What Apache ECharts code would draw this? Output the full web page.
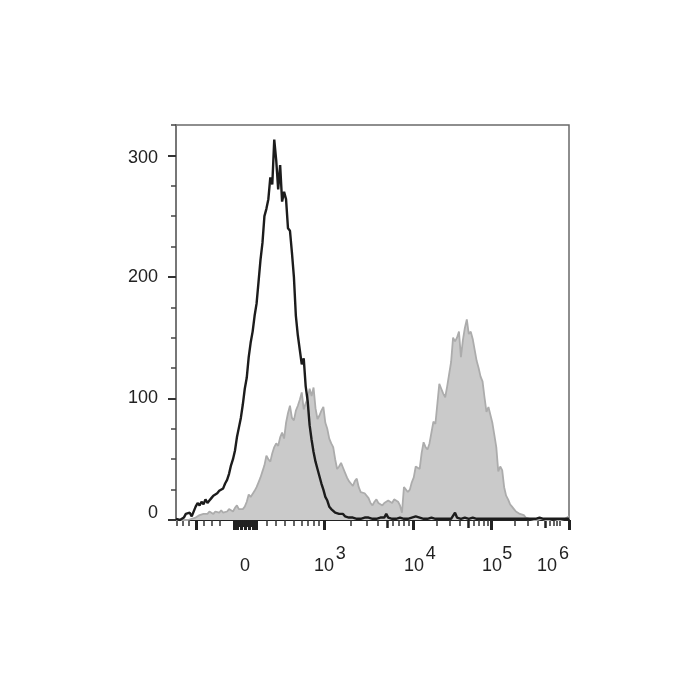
<!DOCTYPE html>
<html>
<head>
<meta charset="utf-8">
<script src="https://cdn.jsdelivr.net/npm/echarts@6/dist/echarts.min.js"></script>
<style>html,body{margin:0;padding:0;background:#fff}#c{width:700px;height:700px}</style>
</head>
<body>
<div id="c"></div>
<script>
// Histogram bins on a 0-1000 display channel scale (biexponential display)
const binWidth = 5;
// Black open histogram (control)
const controlCounts = [
  1,1,0,1,2,5,4,6,3,4, 11,14,12,15,13,17,14,16,18,20,
  19,22,24,23,26,30,33,38,45,50, 57,68,76,84,95,108,117,134,146,155,
  168,178,196,214,228,250,256,264,282,276, 313,296,272,292,262,270,264,240,238,220,
  200,168,152,140,128,133,110,98,78,66, 56,48,42,36,30,25,19,16,11,9,
  8,6,7,5,4,5,3,3,2,3, 2,2,1,2,1,1,2,1,2,1,
  1,2,1,1,2,1,2,5,2,1, 1,2,1,1,2,1,1,2,1,1,
  2,1,3,4,2,1,1,2,1,1, 2,1,1,2,1,1,1,2,1,1,
  1,2,6,2,1,1,1,2,1,1, 1,2,1,1,1,1,2,1,1,1,
  1,1,2,1,1,1,1,1,2,1, 1,1,1,1,2,1,1,1,1,1,
  1,1,1,1,1,2,1,1,1,1, 1,1,1,1,1,1,1,1,1,1,
  1
];
// Grey filled histogram (stained sample)
const sampleCounts = [
  0,0,0,0,0,0,0,0,1,1, 2,3,4,3,5,6,5,7,6,5,
  7,8,6,8,6,5,7,9,8,7, 10,12,9,8,9,11,15,21,19,20,
  24,27,31,35,40,45,53,50,48,55, 60,63,61,68,72,67,80,88,94,84,
  82,90,94,99,105,91,96,100,108,102, 109,92,83,86,90,93,80,75,67,63,
  60,50,42,44,47,43,39,35,32,30, 28,32,34,27,23,24,22,23,18,14,
  12,15,17,14,13,12,14,15,16,16, 14,17,17,15,12,6,27,26,23,25,
  31,35,44,45,42,55,64,60,58,63, 72,81,79,80,112,108,104,101,110,120,
  130,150,147,150,155,134,148,158,165,153, 155,149,140,131,125,118,114,101,89,93,
  92,80,70,60,40,44,41,27,20,17, 13,11,9,7,6,5,5,4,2,1,
  1,1,0,1,0,0,1,0,0,1, 0,0,1,0,0,1,0,1,1,2,
  3
];

// X axis ticks (display channels)
const xMajorTicks = [50.9, 376.6, 603.1, 801.5, 1000];
const xMidTicks = [536.9, 743, 938.9];
const xZeroClusterLong = [147, 156, 166, 176, 186, 196, 205];
const xZeroClusterShort = [151, 161, 171, 181, 191, 201];
const xMinorTicks = [1.8, 16, 31.3, 69.5, 90.9, 112, 230.8, 254.5, 277.4, 300.3, 319.8, 334.1, 349.3, 363.9,
  445.3, 484.7, 513, 552.2, 567.4, 580.2, 592.9,
  663, 697.3, 722.7, 757.6, 771.1, 782.3, 792.5,
  861.4, 895.7, 919.9, 950.9, 960.8, 969.5, 977.4];
// X tick labels: base and exponent
const xBaseText = ['0', '10', '10', '10', '10'];
const xBaseAt = [175.6, 376.6, 605.6, 804, 944];
const xSupText = ['3', '4', '5', '6'];
const xSupAt = [419, 648, 843, 987];

// Y axis
const yMajorTicks = [0, 100, 200, 300];
const yMinorTicks = [25, 50, 75, 125, 150, 175, 225, 250, 275, 325];
const yLabelText = ['0', '100', '200', '300'];
const yLabelAt = [6, 100, 200, 298];

const toPairs = arr => arr.map((c, i) => [i * binWidth, c]);
const FONT = 'Liberation Sans, Arial, sans-serif';

const baseX = {
  type: 'value', min: 0, max: 1000, gridIndex: 0, position: 'bottom', offset: 0,
  splitLine: { show: false }, axisLine: { show: false }, axisLabel: { show: false }, axisTick: { show: false }
};

const chart = echarts.init(document.getElementById('c'), null, { renderer: 'canvas' });
chart.setOption({
  animation: false,
  backgroundColor: '#ffffff',
  grid: { left: 176, right: 131, top: 125, bottom: 180, show: true, borderColor: '#6a6a6a', borderWidth: 1.5, backgroundColor: 'transparent' },
  xAxis: [
    Object.assign({}, baseX, {
      axisLine: { show: true, onZero: false, lineStyle: { color: '#222', width: 2 } },
      axisTick: { show: true, inside: false, length: 10, customValues: xMajorTicks, lineStyle: { color: '#222', width: 3 } },
      axisLabel: { show: true, customValues: xBaseAt, margin: 37, fontSize: 18, color: '#222', fontFamily: FONT,
        formatter: v => xBaseText[xBaseAt.indexOf(v)] }
    }),
    Object.assign({}, baseX, {
      axisTick: { show: true, length: 8, customValues: xMidTicks, lineStyle: { color: '#222', width: 2.5 } },
      axisLabel: { show: true, customValues: xSupAt, margin: 25, fontSize: 18, color: '#222', fontFamily: FONT,
        formatter: v => xSupText[xSupAt.indexOf(v)] }
    }),
    Object.assign({}, baseX, {
      axisTick: { show: true, length: 10, customValues: xZeroClusterLong, lineStyle: { color: '#222', width: 3 } }
    }),
    Object.assign({}, baseX, {
      axisTick: { show: true, length: 7, customValues: xZeroClusterShort, lineStyle: { color: '#222', width: 2.5 } }
    }),
    Object.assign({}, baseX, {
      axisTick: { show: true, length: 6, customValues: xMinorTicks, lineStyle: { color: '#333', width: 1.5 } }
    })
  ],
  yAxis: [
    {
      type: 'value', min: 0, max: 325, position: 'left', gridIndex: 0,
      splitLine: { show: false },
      axisLine: { show: true, onZero: false, lineStyle: { color: '#777', width: 2 } },
      axisTick: { show: true, length: 8, customValues: yMajorTicks, lineStyle: { color: '#333', width: 2 } },
      axisLabel: { show: true, customValues: yLabelAt, margin: 18, fontSize: 18, color: '#222', fontFamily: FONT,
        formatter: v => yLabelText[yLabelAt.indexOf(v)] }
    },
    {
      type: 'value', min: 0, max: 325, position: 'left', gridIndex: 0, offset: 0,
      splitLine: { show: false }, axisLine: { show: false }, axisLabel: { show: false },
      axisTick: { show: true, length: 5, customValues: yMinorTicks, lineStyle: { color: '#444', width: 1.5 } }
    }
  ],
  series: [
    {
      name: 'Sample', type: 'line', xAxisIndex: 0, yAxisIndex: 0,
      data: toPairs(sampleCounts), showSymbol: false, symbol: 'none', z: 2,
      lineStyle: { color: '#acacac', width: 1.8 },
      areaStyle: { color: '#cacaca', opacity: 1 }
    },
    {
      name: 'Control', type: 'line', xAxisIndex: 0, yAxisIndex: 0,
      data: toPairs(controlCounts), showSymbol: false, symbol: 'none', z: 3,
      lineStyle: { color: '#1c1c1c', width: 2.4 }
    }
  ]
});
</script>
</body>
</html>
